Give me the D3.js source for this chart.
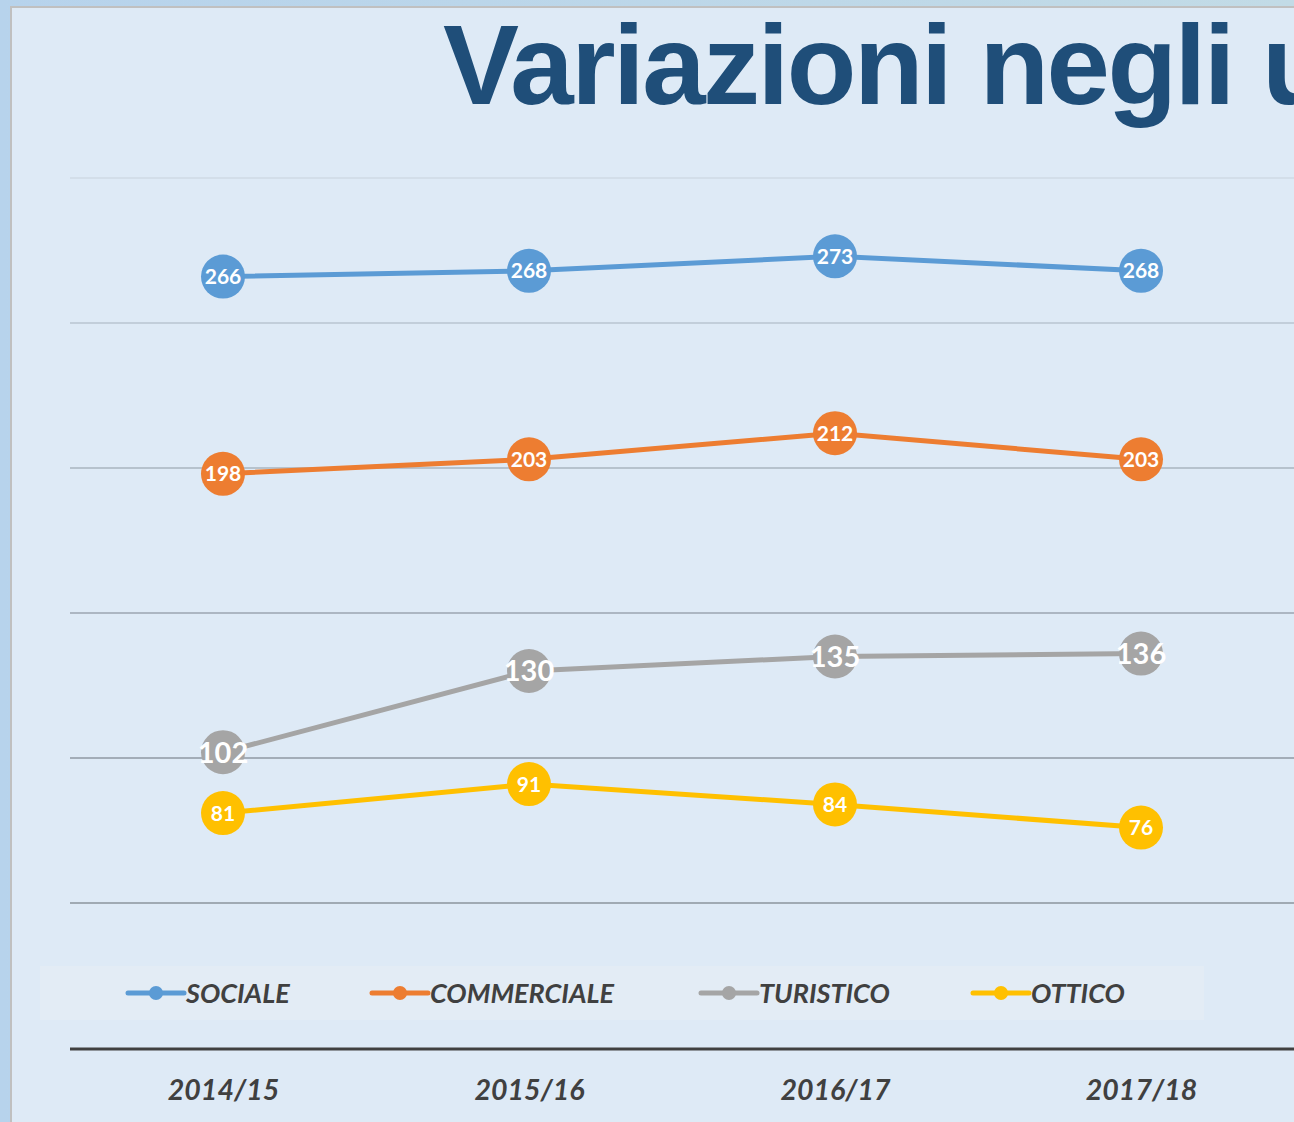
<!DOCTYPE html>
<html><head><meta charset="utf-8">
<script src="https://cdn.jsdelivr.net/npm/d3@7/dist/d3.min.js"></script>
<style>
html,body{margin:0;padding:0;background:#b9d4ec;overflow:hidden}
svg{display:block}
</style></head>
<body>
<script>
const categories = ["2014/15","2015/16","2016/17","2017/18"];
const seriesNames = ["SOCIALE","COMMERCIALE","TURISTICO","OTTICO"];
const sociale = [266,268,273,268];
const commerciale = [198,203,212,203];
const turistico = [102,130,135,136];
const ottico = [81,91,84,76];
const yTicks = [50,100,150,200,250,300];
const colors = ["#5b9bd5","#ed7d31","#a5a5a5","#ffc000"];
const titleText = "Variazioni negli ultimi anni";

const series = [sociale, commerciale, turistico, ottico].map((v,i)=>({name:seriesNames[i], values:v, color:colors[i]}));

const W=1294,H=1122;
const svg = d3.select("body").append("svg").attr("width",W).attr("height",H);

const defs = svg.append("defs");
const g1 = defs.append("linearGradient").attr("id","outer").attr("x1","0").attr("x2","1");
g1.append("stop").attr("offset","0").attr("stop-color","#b7d3ec");
g1.append("stop").attr("offset","1").attr("stop-color","#c2dbe6");
svg.append("rect").attr("width",W).attr("height",H).attr("fill","url(#outer)");
svg.append("rect").attr("x",11).attr("y",7).attr("width",W).attr("height",H).attr("fill","#deeaf6").attr("stroke","#c0c0c0").attr("stroke-width",2);

// title
svg.append("text").attr("x",443).attr("y",104)
  .attr("font-family","Liberation Sans, Arial, sans-serif").attr("font-weight","bold")
  .attr("font-size",114).attr("letter-spacing",-2.5).attr("fill","#1f4e79").text(titleText);

const x = d3.scalePoint().domain(categories).range([70,1294]).padding(0.5);
const y = d3.scaleLinear().domain([50,300]).range([903,178]);

const gridColors = {300:"#cfdae5",250:"#b8c5d1",200:"#a9b4bf",150:"#9ba5b0",100:"#8f99a3",50:"#8b949d"};
svg.append("g").selectAll("line").data(yTicks).join("line")
  .attr("x1",70).attr("x2",1294).attr("y1",d=>y(d)).attr("y2",d=>y(d))
  .attr("stroke",d=>gridColors[d]).attr("stroke-width",1.5);

// x axis
const xa = svg.append("g").attr("transform","translate(0,1049)")
  .call(d3.axisBottom(x).tickSize(0).tickPadding(0));
xa.select(".domain").attr("d","M70,0H1294").attr("stroke","#404040").attr("stroke-width",3);
xa.selectAll("text").attr("dy",null).attr("y",51)
  .attr("font-family","Lato, 'Open Sans', sans-serif").attr("font-weight","bold").attr("font-style","italic")
  .attr("font-size",28.5).attr("fill","#404040");

const line = d3.line().x((d,i)=>x(categories[i])).y(d=>y(d));
const sg = svg.append("g");
series.forEach((s,si)=>{
  sg.append("path").attr("d",line(s.values)).attr("fill","none").attr("stroke",s.color).attr("stroke-width",5);
});
series.forEach((s,si)=>{
  const gg = sg.append("g");
  gg.selectAll("circle").data(s.values).join("circle")
    .attr("cx",(d,i)=>x(categories[i])).attr("cy",d=>y(d)).attr("r",22).attr("fill",s.color);
  gg.selectAll("text").data(s.values).join("text")
    .attr("x",(d,i)=>x(categories[i])).attr("y",d=>y(d)).attr("dy","0.36em")
    .attr("text-anchor","middle").attr("font-family","Lato, 'Open Sans', sans-serif").attr("font-weight","bold")
    .attr("font-size", si===2?29:21).attr("fill","#ffffff").text(d=>d);
});

// legend
const lg = svg.append("g");
lg.append("rect").attr("x",40).attr("y",966).attr("width",1164).attr("height",54).attr("fill","#e3ecf5");
const legX = [128,372,701,973];
series.forEach((s,i)=>{
  const g = lg.append("g").attr("transform",`translate(${legX[i]},993)`);
  g.append("line").attr("x1",0).attr("x2",56).attr("stroke",s.color).attr("stroke-width",5).attr("stroke-linecap","round");
  g.append("circle").attr("cx",28).attr("r",7).attr("fill",s.color);
  g.append("text").attr("x",58).attr("dy","0.36em").attr("font-family","Lato, 'Open Sans', sans-serif")
    .attr("font-weight","bold").attr("font-style","italic").attr("font-size",27).attr("fill","#404040").text(s.name);
});
</script>
</body></html>
